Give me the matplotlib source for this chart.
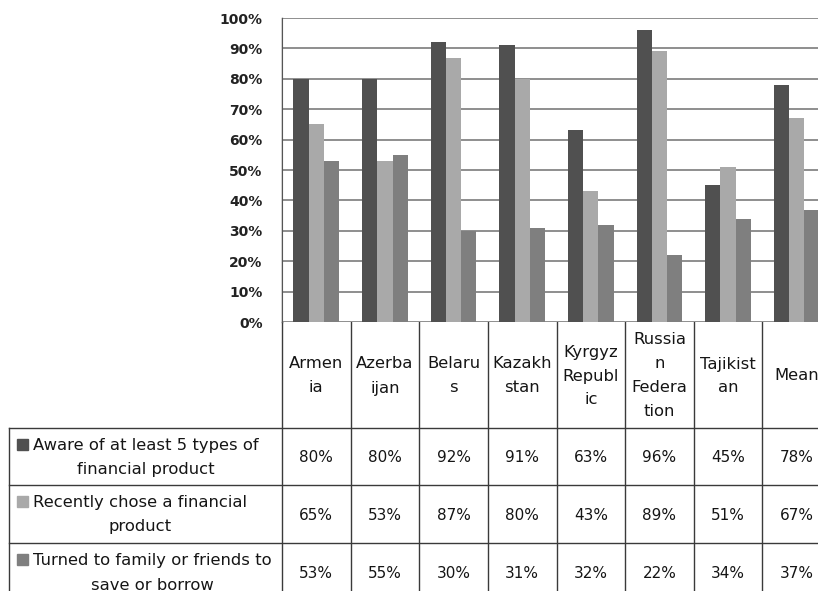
import numpy as np
import matplotlib
matplotlib.use("Agg")
import matplotlib.pyplot as plt
from matplotlib import transforms
from matplotlib.patches import Rectangle

# data
categories = ["Armen\nia", "Azerba\nijan", "Belaru\ns", "Kazakh\nstan",
              "Kyrgyz\nRepubl\nic", "Russia\nn\nFedera\ntion", "Tajikist\nan", "Mean"]
series_names = ["Aware of at least 5 types of\nfinancial product",
                "Recently chose a financial\nproduct",
                "Turned to family or friends to\nsave or borrow"]
aware = [80, 80, 92, 91, 63, 96, 45, 78]
chose = [65, 53, 87, 80, 43, 89, 51, 67]
turned = [53, 55, 30, 31, 32, 22, 34, 37]
colors = ["#505050", "#a9a9a9", "#7f7f7f"]

W, H = 818, 591
fig = plt.figure(figsize=(W / 100, H / 100), dpi=100)

# pixel layout helpers
x_left, x_right = 282, 831
y_top, y_zero = 18, 322
ax = fig.add_axes([x_left / W, 1 - y_zero / H, (x_right - x_left) / W, (y_zero - y_top) / H])

n = len(categories)
x = np.arange(n)
bw = 1 / 4.5  # excel gap width 150%
for i, (vals, c) in enumerate(zip([aware, chose, turned], colors)):
    ax.bar(x + (i - 1) * bw, vals, bw, color=c, zorder=3)

ax.set_xlim(-0.5, n - 0.5)
ax.set_ylim(0, 100)
ax.set_yticks(np.arange(0, 101, 10))
ax.set_yticklabels([f"{v}%" for v in range(0, 101, 10)], fontsize=10, fontweight="bold", color="#222222")
ax.tick_params(axis="y", length=0, pad=14)
ax.set_xticks([])
ax.grid(axis="y", color="#8e8e8e", lw=1.4, zorder=0)
for s in ["top", "right", "bottom"]:
    ax.spines[s].set_visible(False)
ax.spines["left"].set_color("#555555")

# overlay in pixel coordinates for the data table
ov = fig.add_axes([0, 0, 1, 1], zorder=-1)
ov.set_xlim(0, W)
ov.set_ylim(H, 0)
ov.axis("off")
tr = transforms.blended_transform_factory(ax.transData, ov.transData)

line_c = "#3a3a3a"
hdr_bottom = 428
row_edges = [428, 485, 543, 601]
lab_left = 9
lfont = dict(fontsize=11.8, color="#151515", family="DejaVu Sans", linespacing=1.75)
vfont = dict(fontsize=11, color="#151515", family="DejaVu Sans")

# vertical column lines
for k in range(n + 1):
    ov.plot([k - 0.5, k - 0.5], [y_zero, H + 20], transform=tr, color=line_c, lw=1, clip_on=False)
# horizontal row lines
for yy in row_edges:
    ov.plot([lab_left, W + 20], [yy, yy], color=line_c, lw=1)
ov.plot([lab_left, lab_left], [hdr_bottom, H + 20], color=line_c, lw=1)
ov.plot([x_left, x_left], [y_top, y_zero], color=line_c, lw=1)

# header labels
for k, lab in enumerate(categories):
    ov.text(k, (y_zero + hdr_bottom) / 2 + 1, lab, transform=tr, ha="center", va="center",
            multialignment="center", **lfont)

# rows: legend key, label, values
for r, (name, vals, c) in enumerate(zip(series_names, [aware, chose, turned], colors)):
    y0, y1 = row_edges[r], row_edges[r + 1]
    yc = (y0 + y1) / 2
    ov.text(33, yc + 1, name, ha="left", va="center", multialignment="center", **lfont)
    ov.add_patch(Rectangle((17, yc - 18), 11, 11, color=c))
    for k, v in enumerate(vals):
        ov.text(k, yc + 1, f"{v}%", transform=tr, ha="center", va="center", **vfont)

fig.savefig("out.png", dpi=100)
